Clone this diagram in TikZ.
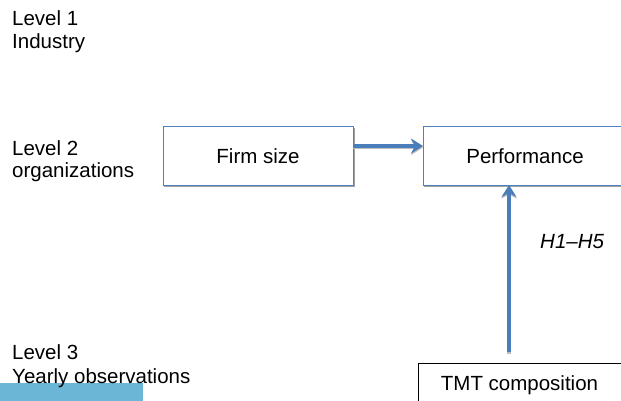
\documentclass[tikz,border=0pt]{standalone}
\usepackage{fontspec}
\setmainfont{Liberation Sans}
\usetikzlibrary{arrows.meta}
\definecolor{boxblue}{RGB}{79,129,189}
\definecolor{arrowblue}{RGB}{74,126,187}
\definecolor{barblue}{RGB}{107,182,215}
\definecolor{shadowgray}{RGB}{160,160,160}
\tikzset{
  lbl/.style={anchor=base west, inner sep=0pt, font=\fontsize{20.5}{23}\selectfont},
  boxtxt/.style={inner sep=0pt, font=\fontsize{20.5}{23}\selectfont},
  bluebox/.style={draw=boxblue, line width=1pt},
  shadowbox/.style={draw=shadowgray, line width=1pt},
  flow/.style={draw=arrowblue, line width=3.6pt, -{Stealth[length=12pt, width=15pt, inset=4pt]}},
  flowshadow/.style={draw=shadowgray!70, line width=3.6pt, -{Stealth[length=12pt, width=15pt, inset=4pt]}},
}
\begin{document}
\begin{tikzpicture}[x=1pt, y=-1pt]
\useasboundingbox (0,0) rectangle (621,401);
\clip (0,0) rectangle (621,401);
\fill[white] (0,0) rectangle (621,401);
% blue bar
\fill[barblue] (0,383) rectangle (143,401);
% level labels
\node[lbl] (l1a) at (12,26) {Level 1};
\node[lbl] (l1b) at (12,49) {Industry};
\node[lbl] (l2a) at (12,155) {Level 2};
\node[lbl] (l2b) at (12,178) {organizations};
\node[lbl] (l3a) at (12,359) {Level 3};
\node[lbl] (l3b) at (12,383) {Yearly observations};
% box shadows
\draw[shadowbox] (164.5,128.5) rectangle (354.5,186.5);
\draw[shadowbox] (424.5,128.5) rectangle (630,186.5);
% boxes
\draw[bluebox, fill=white] (163,127) rectangle (353,185);
\draw[bluebox, fill=white] (423,127) rectangle (630,185);
\node[boxtxt] (firm) at (258,156) {Firm size};
\node[boxtxt] (perf) at (525,156) {Performance};
\coordinate (firmR) at (353,146);
\coordinate (perfL) at (423,146);
\coordinate (perfB) at (509,185);
\draw[black, line width=0.8pt, fill=white] (418,363) rectangle (630,420);
\node[boxtxt, anchor=base] (tmt) at (519.5,390) {TMT composition};
\coordinate (tmtT) at (509,352);
% arrow shadows
\draw[flowshadow] ([shift={(0,1.5)}]firmR) -- ([shift={(0,1.5)}]perfL);
\draw[flowshadow] ([shift={(0,1.5)}]tmtT) -- ([shift={(0,1.5)}]perfB);
% arrows
\draw[flow] (firmR) -- (perfL);
\draw[flow] (tmtT) -- (perfB);
% hypothesis label
\node[lbl, font=\fontsize{20.5}{23}\selectfont\itshape] (hyp) at (540,248) {H1–H5};
\end{tikzpicture}
\end{document}
